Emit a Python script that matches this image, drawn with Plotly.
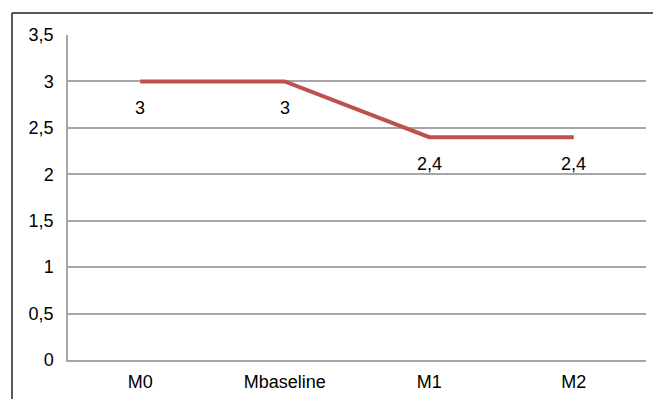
import plotly.graph_objects as go

categories = ["M0", "Mbaseline", "M1", "M2"]
values = [3, 3, 2.4, 2.4]
y_ticks = [0, 0.5, 1, 1.5, 2, 2.5, 3, 3.5]

def fmt(v):
    return (f"{v:g}").replace(".", ",")

FONT = "Liberation Sans, Arial, Helvetica, sans-serif"
FS = 18

fig = go.Figure()
fig.add_trace(go.Scatter(
    x=categories, y=values, mode="lines",
    line=dict(color="#C0504D", width=4),
    hoverinfo="skip", showlegend=False,
))

for c, v in zip(categories, values):
    fig.add_annotation(x=c, y=v, text=fmt(v), showarrow=False,
                       yshift=-27, font=dict(family=FONT, size=FS, color="#000000"))

fig.update_layout(
    width=653, height=399,
    margin=dict(l=68, r=7, t=35, b=39),
    paper_bgcolor="white", plot_bgcolor="white",
    separators=",.",
    font=dict(family=FONT, size=FS, color="#000000"),
    xaxis=dict(
        type="category", range=[-0.5, 3.5],
        showgrid=False, showline=True, linecolor="#A6A6A6", linewidth=1.5,
        ticks="", ticklabelstandoff=5,
        tickfont=dict(family=FONT, size=FS, color="#000000"),
    ),
    yaxis=dict(
        range=[0, 3.5], tickvals=y_ticks,
        ticktext=[fmt(t) for t in y_ticks],
        showgrid=True, gridcolor="#A6A6A6", gridwidth=1.5,
        showline=True, linecolor="#A6A6A6", linewidth=1.5,
        zeroline=False, ticks="", ticklabelstandoff=9,
        tickfont=dict(family=FONT, size=FS, color="#000000"),
    ),
    shapes=[
        dict(type="line", xref="paper", yref="paper",
             x0=(12 - 68) / 578, x1=1.02, y0=(360 - 13) / 325, y1=(360 - 13) / 325,
             line=dict(color="#222222", width=1.5)),
        dict(type="line", xref="paper", yref="paper",
             x0=(12 - 68) / 578, x1=(12 - 68) / 578, y0=(360 - 13) / 325, y1=-0.2,
             line=dict(color="#222222", width=1.5)),
    ],
)

fig.write_html("out.html")
